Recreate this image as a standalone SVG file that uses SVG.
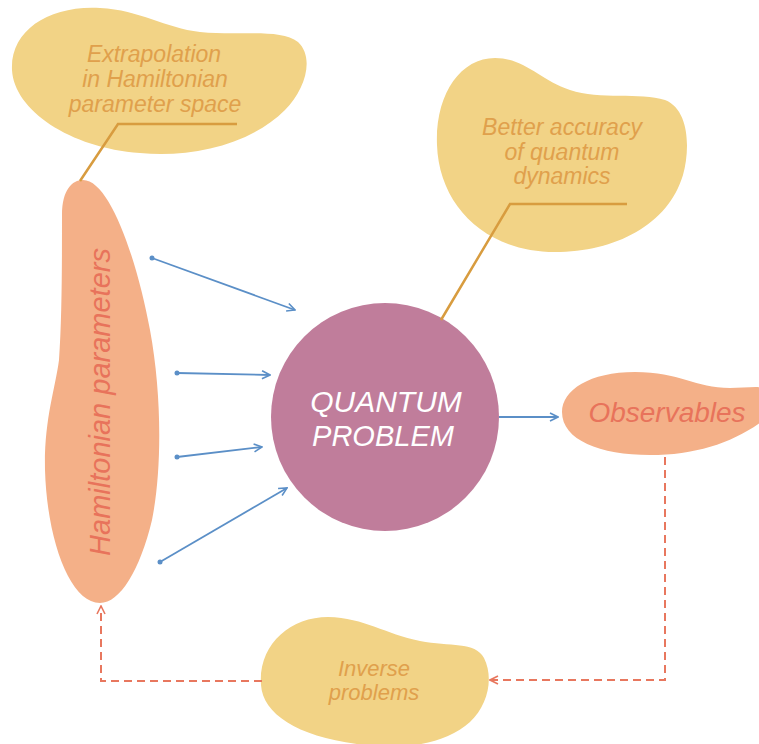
<svg xmlns="http://www.w3.org/2000/svg" width="759" height="744" viewBox="0 0 759 744">
<style>
.yb{fill:#f2d386}
.ob{fill:#f4b088}
.yt{fill:#e0a04c;font-family:"Liberation Sans",Arial,sans-serif;font-style:italic;text-anchor:middle}
.ot{fill:#e8735b;font-family:"Liberation Sans",Arial,sans-serif;font-style:italic;text-anchor:middle}
.wt{fill:#ffffff;font-family:"Liberation Sans",Arial,sans-serif;font-style:italic;text-anchor:middle}
.lead{fill:none;stroke:#d89c3f;stroke-width:2.5}
.arr{fill:none;stroke:#5b8fc7;stroke-width:1.8;marker-end:url(#ab);marker-start:url(#dot)}
.dash{fill:none;stroke:#e8775e;stroke-width:2;stroke-dasharray:8 5;marker-end:url(#ar)}
</style>
<defs>
<marker id="ab" viewBox="0 0 10 10" refX="9" refY="5" markerWidth="10" markerHeight="10" markerUnits="userSpaceOnUse" orient="auto">
<path d="M1,1 L9,5 L1,9" fill="none" stroke="#5b8fc7" stroke-width="1.6"/>
</marker>
<marker id="dot" viewBox="0 0 6 6" refX="3" refY="3" markerWidth="6" markerHeight="6" markerUnits="userSpaceOnUse">
<circle cx="3" cy="3" r="2.5" fill="#5b8fc7"/>
</marker>
<marker id="ar" viewBox="0 0 10 10" refX="9" refY="5" markerWidth="10" markerHeight="10" markerUnits="userSpaceOnUse" orient="auto">
<path d="M1,1 L9,5 L1,9" fill="none" stroke="#e8775e" stroke-width="1.6"/>
</marker>
</defs>
<rect width="759" height="744" fill="#ffffff"/>

<g id="extrapolation">
<path class="yb" d="M12,70 C10,30 50,5 100,8 C140,10 165,28 200,32 C240,36 280,28 298,42 C315,58 305,90 285,110 C250,145 190,158 140,153 C70,148 14,110 12,70 Z"/>
<text class="yt" font-size="23" x="154" y="62">Extrapolation</text>
<text class="yt" font-size="23" x="155" y="87">in Hamiltonian</text>
<text class="yt" font-size="23" x="155" y="112">parameter space</text>
</g>

<g id="better-accuracy">
<path class="yb" d="M437,145 C435,95 460,58 495,58 C525,58 540,80 570,90 C600,100 640,92 665,100 C690,110 690,150 683,175 C668,225 615,252 555,252 C485,252 439,205 437,145 Z"/>
<text class="yt" font-size="23" x="562" y="135">Better accuracy</text>
<text class="yt" font-size="23" x="562" y="160">of quantum</text>
<text class="yt" font-size="23" x="562" y="184">dynamics</text>
</g>

<g id="hamiltonian">
<path class="ob" d="M62,215 C62,190 72,180 83,180 C110,180 137,260 150,330 C162,395 162,470 152,520 C140,570 120,603 100,603 C70,603 47,540 45,470 C44,420 55,390 59,360 C62,320 62,260 62,215 Z"/>
<text class="ot" font-size="29" transform="translate(110,402) rotate(-90)" x="0" y="0">Hamiltonian parameters</text>
</g>

<g id="quantum">
<circle cx="385" cy="417" r="114" fill="#c07d9b"/>
<text class="wt" font-size="30" x="386" y="412">QUANTUM</text>
<text class="wt" font-size="29" x="383" y="446">PROBLEM</text>
</g>

<g id="observables">
<path class="ob" d="M562,412 C562,390 590,372 635,372 C680,372 695,388 730,388 C745,388 765,385 770,390 L770,415 C740,440 700,455 650,455 C600,455 562,440 562,412 Z"/>
<text class="ot" font-size="28" x="667" y="422">Observables</text>
</g>

<g id="inverse">
<path class="yb" d="M261,685 C258,645 290,617 328,617 C365,618 385,634 420,641 C450,647 475,641 484,658 C494,678 488,705 470,722 C445,745 400,750 365,745 C300,738 263,715 261,685 Z"/>
<text class="yt" font-size="22" x="374" y="676">Inverse</text>
<text class="yt" font-size="22" x="374" y="700">problems</text>
</g>

<g id="connectors">
<path class="lead" d="M237,124 L118,124 L80,181"/>
<path class="lead" d="M627,204 L510,204 L441,320"/>
<path class="arr" d="M152,258 L295,310"/>
<path class="arr" d="M177,373 L270,375"/>
<path class="arr" d="M177,457 L262,447"/>
<path class="arr" d="M160,562 L287,488"/>
<path class="arr" d="M499,417 L558,417" style="marker-start:none"/>
<path class="dash" d="M665,457 L665,680 L490,680"/>
<path class="dash" d="M262,681 L101,681 L101,606"/>
</g>
</svg>
